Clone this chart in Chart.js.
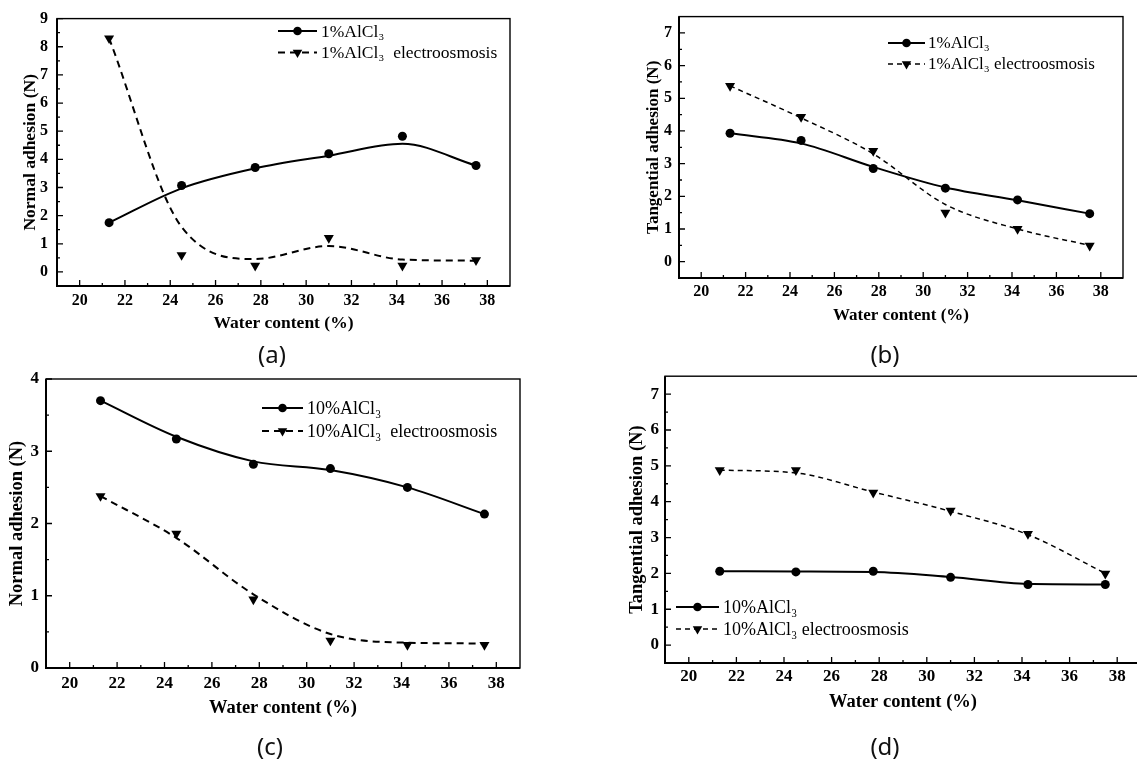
<!DOCTYPE html>
<html><head><meta charset="utf-8">
<script src="https://cdn.jsdelivr.net/npm/chart.js@4.4.1/dist/chart.umd.min.js"></script>
<style>
html,body{margin:0;padding:0;background:#fff;overflow:hidden;width:1137px;height:767px;position:relative;}
canvas{position:absolute;}
.lbl{position:absolute;font-family:"Noto Sans","Open Sans",sans-serif;font-size:24px;color:#111;transform:translate(-50%,-50%);white-space:nowrap;line-height:1;}
</style></head><body>
<canvas id="ca" width="560" height="345" style="left:0px;top:0px"></canvas>
<canvas id="cb" width="557" height="345" style="left:580px;top:0px"></canvas>
<canvas id="cc" width="560" height="380" style="left:0px;top:360px"></canvas>
<canvas id="cd" width="580" height="380" style="left:580px;top:360px"></canvas>
<div class="lbl" style="left:272px;top:354px">(a)</div>
<div class="lbl" style="left:885px;top:354px">(b)</div>
<div class="lbl" style="left:270px;top:746px">(c)</div>
<div class="lbl" style="left:885px;top:746px">(d)</div>
<script>
// ---------- data ----------
const waterContent = [21.3, 24.5, 27.75, 31, 34.25, 37.5];
const xTickLabels = [20, 22, 24, 26, 28, 30, 32, 34, 36, 38];

// (a) normal adhesion, 1% AlCl3
const aPlain = [1.75, 3.07, 3.71, 4.2, 4.82, 3.78];
const aPlainCurve = [1.75, 2.97, 3.68, 4.13, 4.55, 3.78];
const aEO = [8.3, 0.6, 0.22, 1.21, 0.22, 0.42];
const aEOCurve = [8.3, 1.6, 0.46, 0.92, 0.44, 0.4];
const aYTicks = [0, 1, 2, 3, 4, 5, 6, 7, 8, 9];

// (b) tangential adhesion, 1% AlCl3
const bPlain = [3.93, 3.71, 2.85, 2.25, 1.89, 1.47];
const bPlainCurve = [3.93, 3.62, 2.9, 2.27, 1.88, 1.47];
const bEO = [5.38, 4.43, 3.39, 1.5, 1.0, 0.49];
const bEOCurve = [5.38, 4.4, 3.3, 1.75, 1.0, 0.5];
const bYTicks = [0, 1, 2, 3, 4, 5, 6, 7];

// (c) normal adhesion, 10% AlCl3
const cPlain = [3.7, 3.17, 2.82, 2.76, 2.5, 2.13];
const cPlainCurve = [3.7, 3.2, 2.86, 2.74, 2.5, 2.13];
const cEO = [2.38, 1.86, 0.95, 0.38, 0.32, 0.32];
const cEOCurve = [2.38, 1.8, 1.02, 0.47, 0.35, 0.34];
const cYTicks = [0, 1, 2, 3, 4];

// (d) tangential adhesion, 10% AlCl3
const dPlain = [2.06, 2.04, 2.06, 1.89, 1.69, 1.69];
const dPlainCurve = [2.06, 2.05, 2.04, 1.9, 1.71, 1.69];
const dEO = [4.88, 4.88, 4.25, 3.75, 3.1, 1.99];
const dEOCurve = [4.88, 4.8, 4.27, 3.73, 3.08, 2.0];
const dYTicks = [0, 1, 2, 3, 4, 5, 6, 7];

const xy = arr => arr.map((v, i) => ({x: waterContent[i], y: v}));
const SERIF = '"Liberation Serif","Times New Roman",serif';

function drawMarker(ctx, style, x, y, r) {
  ctx.beginPath();
  if (style === 'circle') {
    ctx.arc(x, y, r, 0, Math.PI * 2);
  } else {
    let rad = Math.PI;
    ctx.moveTo(x + Math.sin(rad) * r, y - Math.cos(rad) * r);
    rad += 2 * Math.PI / 3;
    ctx.lineTo(x + Math.sin(rad) * r, y - Math.cos(rad) * r);
    rad += 2 * Math.PI / 3;
    ctx.lineTo(x + Math.sin(rad) * r, y - Math.cos(rad) * r);
    ctx.closePath();
  }
  ctx.fill();
}

const framePlugin = {
  id: 'frame',
  afterDraw(chart, args, opts) {
    const {ctx, chartArea: ca} = chart;
    const xs = chart.scales.x, ys = chart.scales.y;
    ctx.save();
    ctx.strokeStyle = '#000';
    ctx.fillStyle = '#000';
    ctx.setLineDash([]);
    ctx.lineWidth = 1.4;
    ctx.strokeRect(ca.left, ca.top, ca.right - ca.left, ca.bottom - ca.top);
    ctx.lineWidth = 2;
    ctx.beginPath();
    ctx.moveTo(ca.left, ca.top); ctx.lineTo(ca.left, ca.bottom); ctx.lineTo(ca.right, ca.bottom);
    ctx.stroke();
    ctx.lineWidth = 1.3;
    ctx.beginPath();
    const xt = opts.xTicks, yt = opts.yTicks;
    xt.forEach((v, i) => {
      const p = xs.getPixelForValue(v);
      ctx.moveTo(p, ca.bottom); ctx.lineTo(p, ca.bottom - 6);
      if (i < xt.length - 1) {
        const m = xs.getPixelForValue((v + xt[i + 1]) / 2);
        ctx.moveTo(m, ca.bottom); ctx.lineTo(m, ca.bottom - 3);
      }
    });
    yt.forEach((v, i) => {
      const p = ys.getPixelForValue(v);
      ctx.moveTo(ca.left, p); ctx.lineTo(ca.left + 6, p);
      if (i < yt.length - 1) {
        const m = ys.getPixelForValue((v + yt[i + 1]) / 2);
        ctx.moveTo(ca.left, m); ctx.lineTo(ca.left + 3, m);
      }
    });
    ctx.stroke();
    // legend
    const L = opts.legend;
    ctx.font = L.fontSize + 'px ' + SERIF;
    ctx.textBaseline = 'middle';
    ctx.textAlign = 'left';
    L.items.forEach((it, i) => {
      const y = L.y + i * L.dy;
      ctx.lineWidth = it.width;
      ctx.setLineDash(it.dash);
      ctx.beginPath();
      ctx.moveTo(L.x0, y); ctx.lineTo(L.x1, y);
      ctx.stroke();
      ctx.setLineDash([]);
      drawMarker(ctx, it.marker, (L.x0 + L.x1) / 2, y, it.marker === 'circle' ? 4.3 : 5.5);
      ctx.fillText(it.text, L.tx, y + 1);
    });
    ctx.restore();
  }
};

function makePanel(c) {
  const tickFont = {family: SERIF, weight: 'bold', size: c.tickSize};
  const titleFont = {family: SERIF, weight: 'bold', size: c.titleSize};
  return new Chart(document.getElementById(c.id), {
    type: 'line',
    data: {datasets: [
      {data: xy(c.plainCurve), borderColor: '#000', borderWidth: 2, pointRadius: 0, fill: false,
       tension: 0.4, cubicInterpolationMode: 'monotone'},
      {data: xy(c.eoCurve), borderColor: '#000', borderWidth: c.dashWidth, borderDash: c.dash, pointRadius: 0, fill: false,
       tension: 0.4, cubicInterpolationMode: 'monotone'},
      {data: xy(c.plain), showLine: false, pointStyle: 'circle', pointRadius: 4.5,
       pointBackgroundColor: '#000', pointBorderWidth: 0},
      {data: xy(c.eo), showLine: false, pointStyle: 'triangle', rotation: 180, pointRotation: 180, pointRadius: 5.8,
       pointBackgroundColor: '#000', pointBorderWidth: 0}
    ]},
    options: {
      responsive: false, animation: false, devicePixelRatio: 1,
      layout: {padding: c.pad},
      plugins: {
        legend: {display: false}, tooltip: {enabled: false},
        frame: {xTicks: xTickLabels, yTicks: c.yTicks, legend: c.legend}
      },
      scales: {
        x: {
          type: 'linear', min: 19, max: c.xmax,
          grid: {display: false, drawTicks: false}, border: {display: false},
          afterBuildTicks: s => { s.ticks = xTickLabels.map(v => ({value: v})); },
          afterFit: s => { s.height = c.xH; },
          ticks: {padding: c.xTickPad, font: tickFont, color: '#000', autoSkip: false, maxRotation: 0},
          title: {display: true, text: 'Water content (%)', font: titleFont, color: '#000',
                  padding: {top: 0, bottom: c.xTitlePad}}
        },
        y: {
          type: 'linear', min: c.ymin, max: c.ymax,
          grid: {display: false, drawTicks: false}, border: {display: false},
          afterBuildTicks: s => { s.ticks = c.yTicks.map(v => ({value: v})); },
          afterFit: s => { s.width = c.yW; },
          ticks: {padding: c.yTickPad, font: tickFont, color: '#000'},
          title: {display: true, text: c.yTitle, font: titleFont, color: '#000',
                  padding: {top: c.yTitlePad, bottom: 0}}
        }
      }
    },
    plugins: [framePlugin]
  });
}

makePanel({
  id: 'ca', plain: aPlain, plainCurve: aPlainCurve, eo: aEO, eoCurve: aEOCurve, yTicks: aYTicks,
  ymin: -0.5, ymax: 9, xmax: 39, dash: [7, 5], dashWidth: 2,
  pad: {left: 0, top: 11, right: 50, bottom: 0}, xH: 59, yW: 57,
  tickSize: 16, titleSize: 17.5, xTickPad: 5, yTickPad: 9, xTitlePad: 11, yTitlePad: 19.5,
  yTitle: 'Normal adhesion (N)',
  legend: {x0: 278, x1: 317, tx: 321, y: 31, dy: 21.5, fontSize: 17.5, items: [
    {text: '1%AlCl\u2083', marker: 'circle', dash: [], width: 2},
    {text: '1%AlCl\u2083  electroosmosis', marker: 'triangle', dash: [7, 5], width: 2}
  ]}
});

makePanel({
  id: 'cb', plain: bPlain, plainCurve: bPlainCurve, eo: bEO, eoCurve: bEOCurve, yTicks: bYTicks,
  ymin: -0.5, ymax: 7.5, xmax: 39, dash: [5, 4], dashWidth: 1.5,
  pad: {left: 0, top: 7, right: 14, bottom: 0}, xH: 67, yW: 99,
  tickSize: 16, titleSize: 17, xTickPad: 4, yTickPad: 7, xTitlePad: 19.5, yTitlePad: 63,
  yTitle: 'Tangential adhesion (N)',
  legend: {x0: 308, x1: 345, tx: 348, y: 43, dy: 21, fontSize: 17, items: [
    {text: '1%AlCl\u2083', marker: 'circle', dash: [], width: 2},
    {text: '1%AlCl\u2083 electroosmosis', marker: 'triangle', dash: [5, 4], width: 1.5}
  ]}
});

makePanel({
  id: 'cc', plain: cPlain, plainCurve: cPlainCurve, eo: cEO, eoCurve: cEOCurve, yTicks: cYTicks,
  ymin: 0, ymax: 4, xmax: 39, dash: [7, 5], dashWidth: 2,
  pad: {left: 0, top: 19, right: 40, bottom: 0}, xH: 72, yW: 46,
  tickSize: 17, titleSize: 18.5, xTickPad: 5, yTickPad: 7, xTitlePad: 21, yTitlePad: 6,
  yTitle: 'Normal adhesion (N)',
  legend: {x0: 262, x1: 303, tx: 307, y: 48, dy: 23, fontSize: 18, items: [
    {text: '10%AlCl\u2083', marker: 'circle', dash: [], width: 2},
    {text: '10%AlCl\u2083  electroosmosis', marker: 'triangle', dash: [7, 5], width: 2}
  ]}
});

makePanel({
  id: 'cd', plain: dPlain, plainCurve: dPlainCurve, eo: dEO, eoCurve: dEOCurve, yTicks: dYTicks,
  ymin: -0.5, ymax: 7.5, xmax: 39, dash: [5, 4], dashWidth: 1.5,
  pad: {left: 0, top: 13, right: 19, bottom: 0}, xH: 77, yW: 85,
  tickSize: 17, titleSize: 18.5, xTickPad: 3, yTickPad: 6, xTitlePad: 27, yTitlePad: 46,
  yTitle: 'Tangential adhesion (N)',
  legend: {x0: 96, x1: 139, tx: 143, y: 247, dy: 22, fontSize: 18, items: [
    {text: '10%AlCl\u2083', marker: 'circle', dash: [], width: 2},
    {text: '10%AlCl\u2083 electroosmosis', marker: 'triangle', dash: [5, 4], width: 1.5}
  ]}
});
</script>
</body></html>
